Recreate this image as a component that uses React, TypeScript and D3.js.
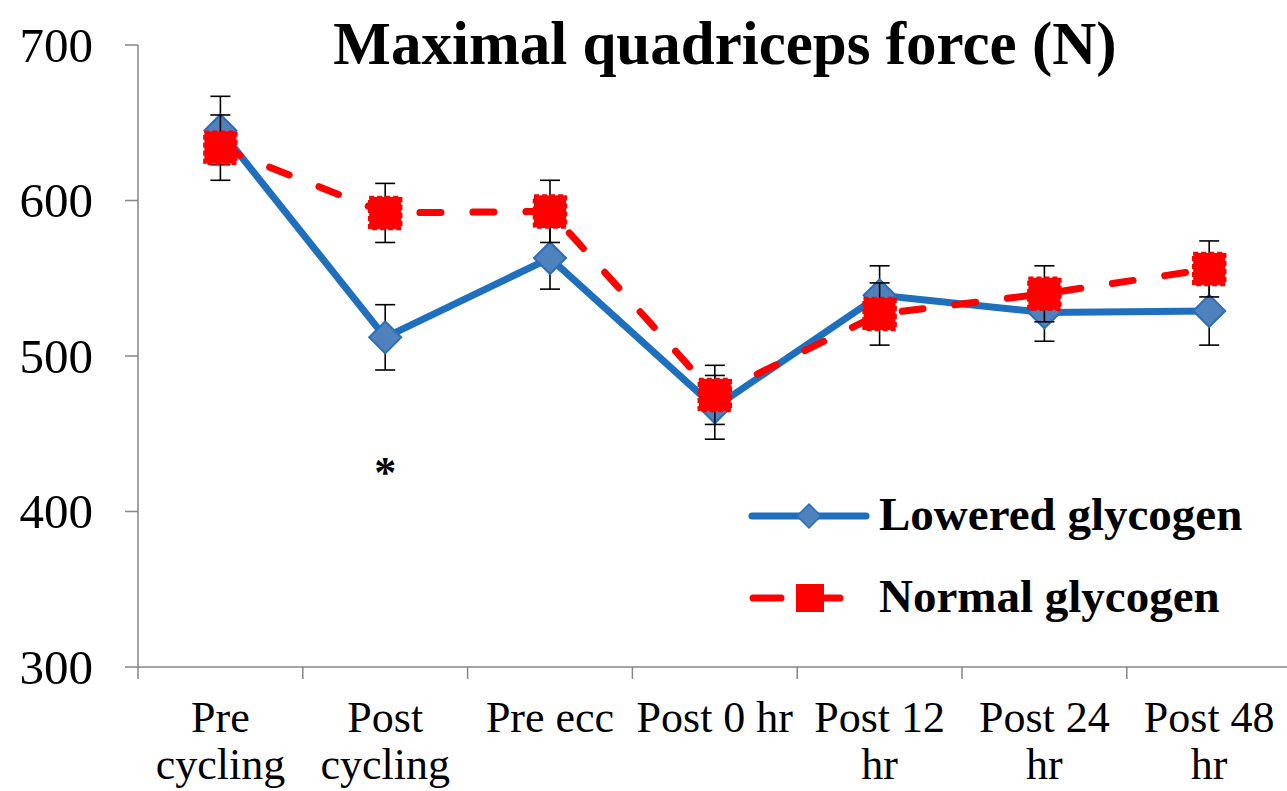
import React, {useEffect, useRef} from 'react';
import * as d3 from 'd3';

// time points (x axis), each label split over lines as in the figure
const categories = ['Pre cycling', 'Post cycling', 'Pre ecc', 'Post 0 hr', 'Post 12 hr', 'Post 24 hr', 'Post 48 hr'];
const categoryLines = [['Pre', 'cycling'], ['Post', 'cycling'], ['Pre ecc'], ['Post 0 hr'], ['Post 12', 'hr'], ['Post 24', 'hr'], ['Post 48', 'hr']];

// mean maximal quadriceps force (N) and its error
const loweredValues = [645, 512, 563, 467, 539, 528, 529];
const loweredErrors = [22, 21, 20, 20.5, 19, 18.5, 22];
const normalValues = [634, 592, 593, 475, 527, 540, 556];
const normalErrors = [21, 19, 20, 19, 20, 18, 18];

const yTicks = [300, 400, 500, 600, 700];
const significance = [{category: 'Post cycling', value: 430, label: '*'}];

const WIDTH = 1287;
const HEIGHT = 791;
const SERIF = '"Liberation Serif", "Times New Roman", serif';

const App: React.FC = () => {
    const svgRef = useRef<SVGSVGElement | null>(null);

    useEffect(() => {
        if (svgRef.current) {
            drawChart();
        }
    }, []);

    const drawChart = () => {
        const svg = d3.select(svgRef.current);
        svg.selectAll('*').remove();

        const x = d3.scaleBand<string>().domain(categories).range([138, 138 + 164.8 * 7]).padding(0);
        const y = d3.scaleLinear().domain([300, 700]).range([667, 45]);
        const cx = (c: string) => (x(c) as number) + x.bandwidth() / 2;

        // title
        svg.append('text')
            .attr('x', 725)
            .attr('y', 64)
            .attr('text-anchor', 'middle')
            .style('font-family', SERIF)
            .style('font-weight', 'bold')
            .style('font-size', '61px')
            .text('Maximal quadriceps force (N)');

        // y axis
        const axisColor = '#868686';
        svg.append('line')
            .attr('x1', 138).attr('x2', 138)
            .attr('y1', y(700)).attr('y2', y(300))
            .attr('stroke', axisColor).attr('stroke-width', 1.5);
        const yt = svg.append('g');
        yt.selectAll('line').data(yTicks).enter().append('line')
            .attr('x1', 125).attr('x2', 138)
            .attr('y1', (d) => y(d)).attr('y2', (d) => y(d))
            .attr('stroke', axisColor).attr('stroke-width', 1.5);
        yt.selectAll('text').data(yTicks).enter().append('text')
            .attr('x', 93)
            .attr('y', (d) => y(d))
            .attr('dy', '0.34em')
            .attr('text-anchor', 'end')
            .style('font-family', SERIF)
            .style('font-size', '49px')
            .text((d) => d);

        // x axis
        svg.append('line')
            .attr('x1', 138).attr('x2', WIDTH)
            .attr('y1', y(300)).attr('y2', y(300))
            .attr('stroke', axisColor).attr('stroke-width', 1.5);
        const bounds = categories.map((c) => x(c) as number).concat([x.range()[1]]);
        svg.append('g').selectAll('line').data(bounds).enter().append('line')
            .attr('x1', (d) => d).attr('x2', (d) => d)
            .attr('y1', y(300)).attr('y2', y(300) + 12)
            .attr('stroke', axisColor).attr('stroke-width', 1.5);
        const xl = svg.append('g').selectAll('text').data(categories).enter().append('text')
            .attr('text-anchor', 'middle')
            .style('font-family', SERIF)
            .style('font-size', '44px');
        xl.each(function (c, i) {
            const t = d3.select(this);
            categoryLines[i].forEach((line, j) => {
                t.append('tspan')
                    .attr('x', cx(c))
                    .attr('y', 732 + j * 47)
                    .text(line);
            });
        });

        const line = d3.line<number>()
            .x((_, i) => cx(categories[i]))
            .y((d) => y(d));

        const drawErrors = (values: number[], errors: number[]) => {
            const g = svg.append('g').attr('stroke', '#000').attr('stroke-width', 1.6);
            values.forEach((v, i) => {
                const px = cx(categories[i]);
                const top = y(v + errors[i]);
                const bot = y(v - errors[i]);
                g.append('line').attr('x1', px).attr('x2', px).attr('y1', top).attr('y2', bot);
                g.append('line').attr('x1', px - 10).attr('x2', px + 10).attr('y1', top).attr('y2', top);
                g.append('line').attr('x1', px - 10).attr('x2', px + 10).attr('y1', bot).attr('y2', bot);
            });
        };

        const diamond = 'M0,-16L16,0L0,16L-16,0Z';

        // lowered glycogen
        drawErrors(loweredValues, loweredErrors);
        svg.append('path')
            .attr('d', line(loweredValues) as string)
            .attr('fill', 'none')
            .attr('stroke', '#1F6FBF')
            .attr('stroke-width', 7)
            .attr('stroke-linejoin', 'round');
        svg.append('g').selectAll('path').data(loweredValues).enter().append('path')
            .attr('d', diamond)
            .attr('transform', (d, i) => `translate(${cx(categories[i])},${y(d)})`)
            .attr('fill', '#4F81BD')
            .attr('stroke', '#2A6DB8')
            .attr('stroke-width', 2);

        // normal glycogen
        drawErrors(normalValues, normalErrors);
        svg.append('path')
            .attr('d', line(normalValues) as string)
            .attr('fill', 'none')
            .attr('stroke', '#FF0000')
            .attr('stroke-width', 7)
            .attr('stroke-linecap', 'round')
            .attr('stroke-dasharray', '21,32');
        svg.append('g').selectAll('rect').data(normalValues).enter().append('rect')
            .attr('x', (d, i) => cx(categories[i]) - 16)
            .attr('y', (d) => y(d) - 16)
            .attr('width', 32)
            .attr('height', 32)
            .attr('fill', '#FF0000')
            .attr('stroke', '#FF0000')
            .attr('stroke-width', 2.5)
            .attr('stroke-dasharray', '5,3');

        // significance marker
        svg.append('g').selectAll('text').data(significance).enter().append('text')
            .attr('x', (d) => cx(d.category))
            .attr('y', (d) => y(d.value) + 22)
            .attr('text-anchor', 'middle')
            .style('font-family', SERIF)
            .style('font-weight', 'bold')
            .style('font-size', '44px')
            .text((d) => d.label);

        // legend
        const legend = svg.append('g');
        legend.append('line')
            .attr('x1', 752).attr('x2', 866).attr('y1', 516).attr('y2', 516)
            .attr('stroke', '#1F6FBF').attr('stroke-width', 7).attr('stroke-linecap', 'round');
        legend.append('path')
            .attr('d', diamond)
            .attr('transform', 'translate(809,516) scale(0.75)')
            .attr('fill', '#4F81BD').attr('stroke', '#2A6DB8').attr('stroke-width', 2);
        legend.append('line')
            .attr('x1', 753).attr('x2', 781).attr('y1', 598).attr('y2', 598)
            .attr('stroke', '#FF0000').attr('stroke-width', 7).attr('stroke-linecap', 'round');
        legend.append('line')
            .attr('x1', 824).attr('x2', 840).attr('y1', 598).attr('y2', 598)
            .attr('stroke', '#FF0000').attr('stroke-width', 7).attr('stroke-linecap', 'round');
        legend.append('rect')
            .attr('x', 796).attr('y', 584).attr('width', 28).attr('height', 28)
            .attr('fill', '#FF0000');
        legend.selectAll('text').data(['Lowered glycogen', 'Normal glycogen']).enter().append('text')
            .attr('x', 879)
            .attr('y', (_, i) => 530 + i * 82)
            .style('font-family', SERIF)
            .style('font-weight', 'bold')
            .style('font-size', '47px')
            .text((d) => d);
    };

    return (
        <svg
            ref={svgRef}
            width={WIDTH}
            height={HEIGHT}
            style={{position: 'absolute', left: 0, top: 0, background: '#fff'}}
        ></svg>
    );
};

export default App;
